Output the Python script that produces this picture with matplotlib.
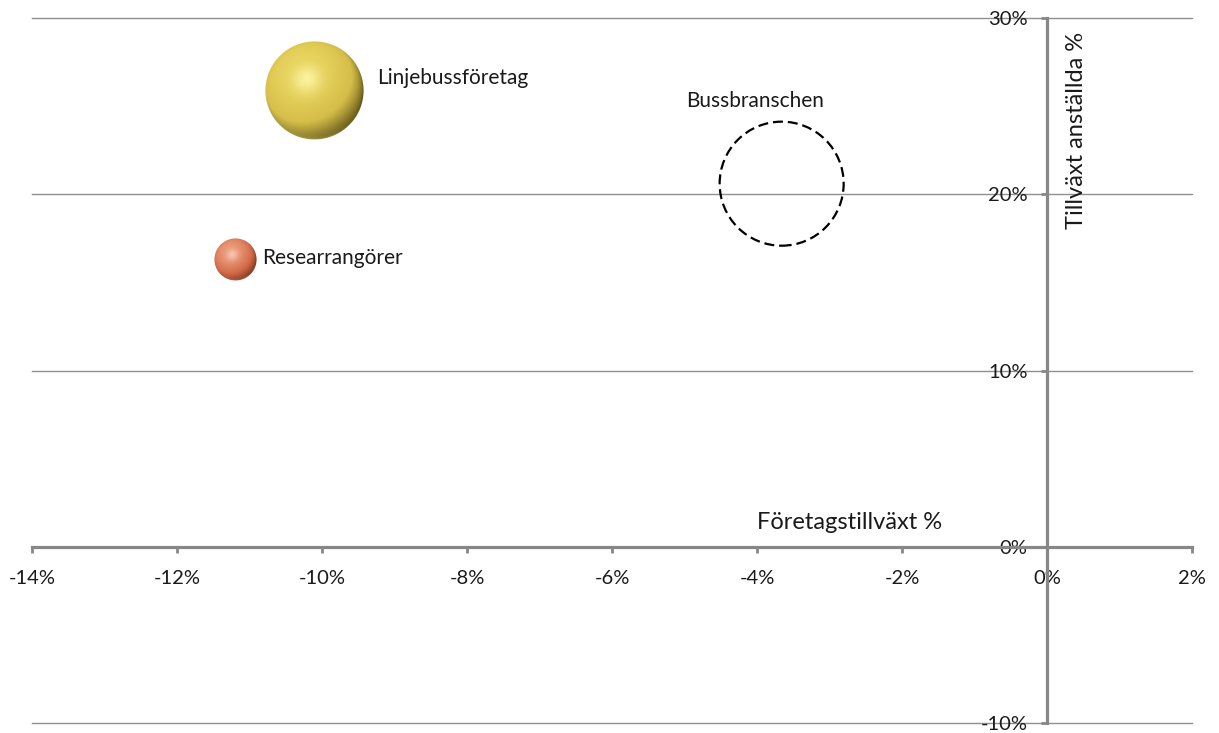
import numpy as np
import matplotlib
matplotlib.use("Agg")
import matplotlib.pyplot as plt
from matplotlib.colors import to_rgb
from matplotlib.ticker import FuncFormatter
from matplotlib.offsetbox import OffsetImage, AnnotationBbox

plt.rcParams['font.family'] = ['Lato', 'DejaVu Sans']

# Data: growth in number of companies vs growth in employees (%)
groups = ["Linjebussföretag", "Researrangörer", "Bussbranschen"]
company_growth = [-10.1, -11.2, -3.66]
employee_growth = [25.9, 16.3, 20.6]
bubble_size = [625, 115, 1000]

x_ticks = [-14, -12, -10, -8, -6, -4, -2, 0, 2]
y_ticks = [-10, 0, 10, 20, 30]

DPI = 100
fig = plt.figure(figsize=(12.19, 7.33), dpi=DPI)
ax = fig.add_axes([32 / 1219, 1 - 723 / 733, 1160 / 1219, 705 / 733])

ax.set_xlim(-14, 2)
ax.set_ylim(-10, 30)

# Bubble area proportional to size; largest bubble ~89 pt across
MAX_DIAM = 89.3
diam = [np.sqrt(s / max(bubble_size)) * MAX_DIAM for s in bubble_size]


def sphere_image(d_px, dark, mid, light, spec, rim_col):
    """RGBA image of a lit sphere (light from upper left, rim reflection below)."""
    dark, mid, light, spec, rim_col = (np.array(to_rgb(c)) for c in
                                       (dark, mid, light, spec, rim_col))
    n = int(np.ceil(d_px)) + 2
    c = (n - 1) / 2.0
    R = d_px / 2.0
    yy, xx = np.mgrid[0:n, 0:n]
    X = (xx - c) / R
    Y = -(yy - c) / R
    r = np.sqrt(X ** 2 + Y ** 2)
    Z = np.sqrt(np.clip(1 - r ** 2, 0, 1))

    L = np.array([-0.30, 0.45, 0.84])
    L /= np.linalg.norm(L)
    w = 0.35
    diff = np.clip((X * L[0] + Y * L[1] + Z * L[2] + w) / (1 + w), 0, 1)
    H = L + np.array([0, 0, 1.0])
    H /= np.linalg.norm(H)
    spec_t = np.clip(X * H[0] + Y * H[1] + Z * H[2], 0, 1) ** 24

    rgb = np.empty((n, n, 3))
    for i in range(3):
        rgb[..., i] = np.interp(diff, [0.0, 0.55, 1.0], [dark[i], mid[i], light[i]])
    rgb += spec_t[..., None] * 0.85 * (spec - rgb)
    rim = np.clip(-Y, 0, 1) ** 1.5 * np.clip(1 - Z, 0, 1) ** 2.5
    rgb += rim[..., None] * 0.75 * (rim_col - rgb)
    rgb = np.clip(rgb, 0, 1)

    alpha = np.clip((1 - r) * R + 0.5, 0, 1)
    return np.dstack([rgb, alpha])


sphere_colors = [
    dict(dark="#4a3e0c", mid="#d4bd48", light="#e8d45e", spec="#fff7a8",
         rim_col="#efe07a"),
    dict(dark="#6a2812", mid="#d26a48", light="#ea9878", spec="#f9cab4",
         rim_col="#eea088"),
]
for k in range(2):
    d_px = diam[k] * DPI / 72.0
    img = sphere_image(d_px, **sphere_colors[k])
    box = AnnotationBbox(OffsetImage(img, zoom=1, dpi_cor=False),
                         (company_growth[k], employee_growth[k]),
                         frameon=False, pad=0, box_alignment=(0.5, 0.5),
                         zorder=5)
    ax.add_artist(box)

ax.scatter([company_growth[2]], [employee_growth[2]], s=diam[2] ** 2,
           facecolors='none', edgecolors='black', linewidths=1.6,
           linestyles=[(0, (4.5, 2.2))], zorder=5)

# Labels next to the bubbles
label_offsets = [(45, 8.6, 'left'), (19.4, 1.4, 'left'), (-19.4, 59.8, 'center')]
for name, xv, yv, (dx, dy, ha) in zip(groups, company_growth, employee_growth,
                                      label_offsets):
    ax.annotate(name, (xv, yv), xytext=(dx, dy), textcoords='offset points',
                ha=ha, va='center', fontsize=15, color='#1a1a1a', zorder=10)

# Axes crossing at the origin
axis_col = '#878787'
for side in ('top', 'right'):
    ax.spines[side].set_visible(False)
ax.spines['left'].set_position(('data', 0))
ax.spines['bottom'].set_position(('data', 0))
for side in ('left', 'bottom'):
    ax.spines[side].set_color(axis_col)
    ax.spines[side].set_linewidth(2.3)
    ax.spines[side].set_zorder(4)

pct = FuncFormatter(lambda v, p: f"{v:.0f}%")
ax.set_xticks(x_ticks)
ax.set_yticks(y_ticks)
ax.xaxis.set_major_formatter(pct)
ax.yaxis.set_major_formatter(pct)
ax.tick_params(axis='x', direction='out', length=4, width=2, color=axis_col,
               pad=13, labelsize=14.5, labelcolor='#1a1a1a')
ax.tick_params(axis='y', direction='out', length=4, width=2, color=axis_col,
               pad=10, labelsize=14.5, labelcolor='#1a1a1a')

ax.yaxis.grid(True, color='#8f8f8f', linewidth=1.0, zorder=0)
ax.set_axisbelow(True)
for gl in ax.get_ygridlines():
    gl.set_clip_on(False)

# Axis titles placed inside the plot area
ax.text(-2.72, 1.4, "Företagstillväxt %", ha='center', va='center',
        fontsize=17, color='#1a1a1a')
ax.text(0.41, 23.6, "Tillväxt anställda %", ha='center', va='center',
        rotation=90, fontsize=17, color='#1a1a1a')

fig.savefig("out.png", dpi=DPI, facecolor='white')
